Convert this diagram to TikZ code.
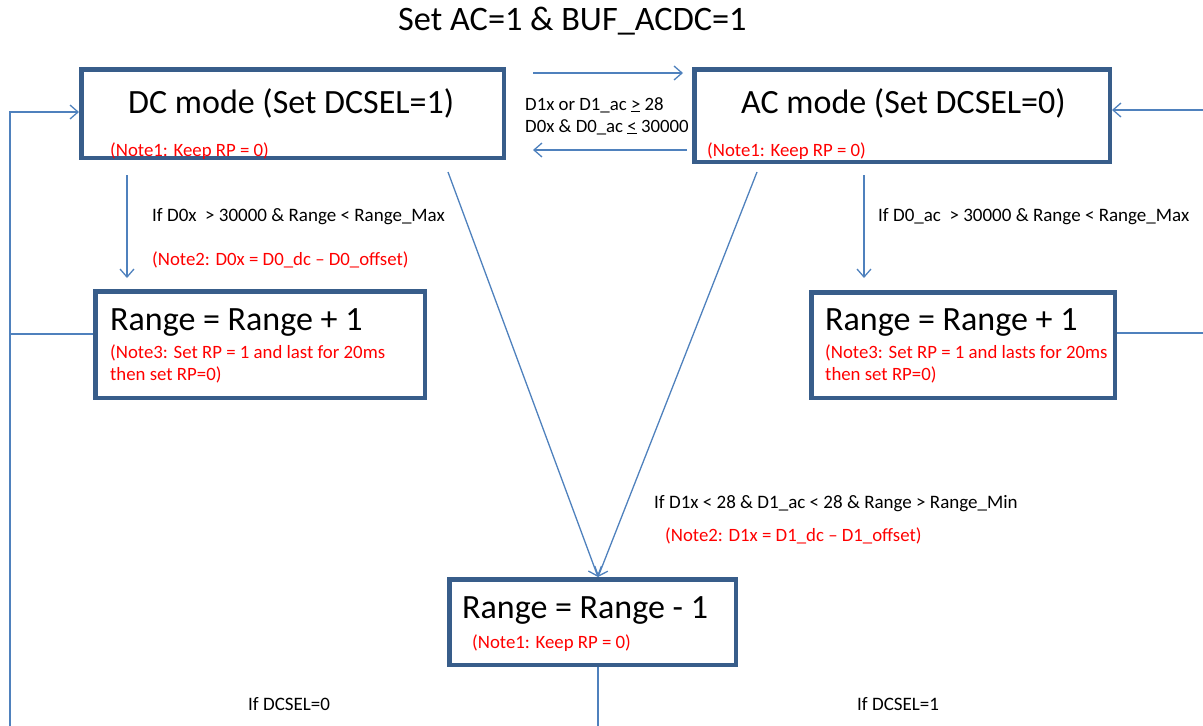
\documentclass[tikz,border=0pt]{standalone}
\usepackage{fontspec}
\setmainfont{Carlito}
\usetikzlibrary{arrows.meta,calc}
\definecolor{boxc}{RGB}{56,93,138}
\definecolor{linec}{RGB}{79,129,189}
\definecolor{notec}{RGB}{255,0,0}
\begin{document}
\begin{tikzpicture}[x=1pt,y=-1pt,
  box/.style={draw=boxc,line width=4.5pt,inner sep=0,anchor=north west},
  conn/.style={draw=linec,line width=1.3pt},
  arr/.style={conn,-{Straight Barb[length=8pt,width=14pt]}},
  big/.style={inner sep=0,anchor=base west,font=\fontsize{34}{40}\selectfont},
  lab/.style={inner sep=0,anchor=base west,font=\fontsize{19}{22}\selectfont},
  midlab/.style={inner sep=0,anchor=base west,font=\fontsize{18.8}{22}\selectfont},
  note/.style={inner sep=0,anchor=base west,text=notec,font=\fontsize{18.8}{22}\selectfont}]
\useasboundingbox (0,0) rectangle (1203,726);

% title
\node[big,font=\fontsize{34.3}{40}\selectfont] (title) at (398,30) {Set AC=1 \& BUF\_ACDC=1};

% boxes
\node[box,minimum width=422.5pt,minimum height=88.5pt] (dc) at (79,67) {};
\node[box,minimum width=415.5pt,minimum height=92.5pt] (ac) at (692,67) {};
\node[box,minimum width=329.5pt,minimum height=106.5pt] (rl) at (93,289) {};
\node[box,minimum width=303.5pt,minimum height=105.5pt] (rr) at (809,290) {};
\node[box,minimum width=286.5pt,minimum height=85.5pt] (rm) at (447,577) {};

% box texts
\node[big] (dct) at (128,113) {DC mode (Set DCSEL=1)};
\node[note] (dcn) at (110,156) {(Note1: Keep RP = 0)};
\node[big] (act) at (741,113) {AC mode (Set DCSEL=0)};
\node[note] (acn) at (707,156) {(Note1: Keep RP = 0)};
\node[big] (rlt) at (110,330) {Range = Range + 1};
\node[note] (rln1) at (110,358) {(Note3: Set RP = 1 and last for 20ms};
\node[note] (rln2) at (110,380) {then set RP=0)};
\node[big] (rrt) at (825,330) {Range = Range + 1};
\node[note] (rrn1) at (825,358) {(Note3: Set RP = 1 and lasts for 20ms};
\node[note] (rrn2) at (825,380) {then set RP=0)};
\node[big] (rmt) at (462,618) {Range = Range - 1};
\node[note] (rmn) at (472,648) {(Note1: Keep RP = 0)};

% labels
\node[midlab] (m1) at (525,110) {D1x or D1\_ac \underline{>} 28};
\node[midlab] (m2) at (525,132) {D0x \& D0\_ac \underline{<} 30000};
\node[lab] (l1) at (152,221) {If D0x \ > 30000 \& Range < Range\_Max};
\node[note] (l1n) at (152,265) {(Note2: D0x = D0\_dc – D0\_offset)};
\node[lab] (l2) at (878,221) {If D0\_ac \ > 30000 \& Range < Range\_Max};
\node[lab] (l3) at (654,508) {If D1x < 28 \& D1\_ac < 28 \& Range > Range\_Min};
\node[note] (l3n) at (665,541) {(Note2: D1x = D1\_dc – D1\_offset)};
\node[lab] (l4) at (248,710) {If DCSEL=0};
\node[lab] (l5) at (857,710) {If DCSEL=1};

% free ends
\coordinate (lb) at (10,726);
\coordinate (rb) at (1203,110);
\coordinate (rb2) at (1203,333);
\coordinate (bb) at (598,726);
\coordinate (t1) at (533,73);
\coordinate (t2) at (683,73);
\coordinate (b1) at (687,150);
\coordinate (b2) at (533,150);
\coordinate (dd1) at (127,175);
\coordinate (dd2) at (127,278);
\coordinate (ad1) at (864,175);
\coordinate (ad2) at (864,278);
\coordinate (g1) at (448,172);
\coordinate (g2) at (757,172);
\coordinate (tip) at (598,577);

% connectors
\draw[arr] (t1) -- (t2);
\draw[arr] (b1) -- (b2);
\draw[arr] (lb) |- (dc.west |- 0,112);
\draw[conn] (rl.west |- 0,334) -- (lb |- 0,334);
\draw[arr] (rb) -- (ac.east |- rb);
\draw[conn] (rr.east |- rb2) -- (rb2);
\draw[arr] (dd1) -- (dd2);
\draw[arr] (ad1) -- (ad2);
\draw[arr] (g1) -- (tip);
\draw[arr] (g2) -- (tip);
\draw[conn] (rm.south -| bb) -- (bb);
\end{tikzpicture}
\end{document}
